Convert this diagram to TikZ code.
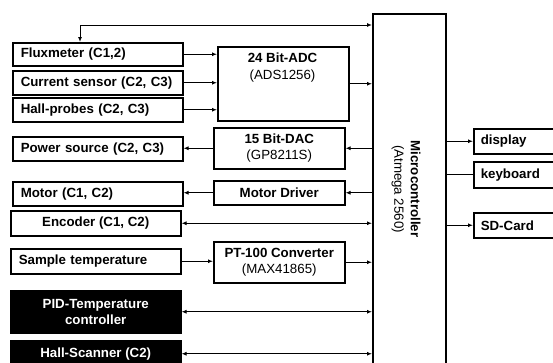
\documentclass[tikz,border=0pt]{standalone}
\usepackage{fontspec}
\setmainfont{Liberation Sans}
\usetikzlibrary{arrows.meta}
\begin{document}
\begin{tikzpicture}[x=1pt,y=-1pt,
  font=\fontsize{13.3}{16.5}\selectfont\bfseries,
  box/.style={draw, line width=1.5pt, inner sep=0pt, anchor=north west},
  lbox/.style={box, minimum width=170pt, text width=154pt, align=left},
  cbox/.style={box, minimum width=#1, align=center},
  rbox/.style={box, minimum width=100pt, text width=86pt, align=left},
  blk/.style={box, fill=black, text=white, minimum width=170pt, align=center},
  conn/.style={line width=1pt},
  tip/.style={-{Latex[length=5pt,width=4pt]}},
  dtip/.style={{Latex[length=5pt,width=4pt]}-{Latex[length=5pt,width=4pt]}},
]
\clip (0,0) rectangle (553,362);
% left column
\node[lbox, minimum height=23pt] (flux) at (12,42) {Fluxmeter (C1,2)};
\node[lbox, minimum height=24pt] (cur) at (12,70) {Current sensor (C2, C3)};
\node[lbox, minimum height=24pt] (hall) at (12,97) {Hall-probes (C2, C3)};
\node[lbox, minimum height=24pt] (power) at (12,136) {Power source (C2, C3)};
\node[lbox, minimum height=24pt] (motor) at (12,181) {Motor (C1, C2)};
\node[cbox=170pt, minimum height=25pt] (enc) at (10,210) {Encoder (C1, C2)};
\node[lbox, minimum height=25pt] (sample) at (10,248) {Sample temperature};
\node[blk, minimum height=42pt] (pid) at (10,290) {PID-Temperature\\controller};
\node[blk, minimum height=26pt] (hsc) at (10,340) {Hall-Scanner (C2)};
% middle column
\node[cbox=131pt, minimum height=74pt] (adc) at (217,46) {};
\node[align=center] (adctext) at (282.5,67.5) {24 Bit-ADC\\\mdseries(ADS1256)};
\node[cbox=131pt, minimum height=41pt] (dac) at (213,127) {15 Bit-DAC\\\mdseries(GP8211S)};
\node[cbox=131pt, minimum height=24pt] (mdrv) at (213,180) {Motor Driver};
\node[cbox=131pt, minimum height=41pt] (pt) at (213,241) {PT-100 Converter\\\mdseries(MAX41865)};
% microcontroller
\node[box, minimum width=73pt, minimum height=400pt] (micro) at (372,13) {};
\node[rotate=-90, align=center] (mtext) at (406,189) {Microcontroller\\\mdseries(Atmega 2560)};
% right column
\node[rbox, minimum height=25pt] (disp) at (473,128) {display};
\node[rbox, minimum height=26pt] (kbd) at (473,161) {keyboard};
\node[rbox, minimum height=25pt] (sd) at (473,212) {SD-Card};
% connectors
\coordinate (tp) at (80,25);
\draw[conn, dtip] (tp |- flux.north) -- (tp) -- (tp -| micro.west);
\draw[conn, tip] (flux.east) -- (flux.east -| adc.west);
\draw[conn, tip] (cur.east) -- (cur.east -| adc.west);
\draw[conn, tip] (hall.east) -- (hall.east -| adc.west);
\draw[conn, tip] (adc.east) -- (adc.east -| micro.west);
\draw[conn, tip] (dac.east -| micro.west) -- (dac.east);
\draw[conn, tip] (dac.west) -- (dac.west -| power.east);
\draw[conn, tip] (mdrv.east -| micro.west) -- (mdrv.east);
\draw[conn, tip] (mdrv.west) -- (mdrv.west -| motor.east);
\draw[conn, dtip] (enc.east) -- (enc.east -| micro.west);
\draw[conn, tip] (sample.east) -- (sample.east -| pt.west);
\draw[conn, tip] (pt.east) -- (pt.east -| micro.west);
\draw[conn, dtip] (pid.east) -- (pid.east -| micro.west);
\draw[conn, dtip] (hsc.east) -- (hsc.east -| micro.west);
\draw[conn, tip] (micro.east |- disp.west) -- (disp.west);
\draw[conn] (micro.east |- kbd.west) -- (kbd.west);
\draw[conn, tip] (micro.east |- sd.west) -- (sd.west);
\end{tikzpicture}
\end{document}
